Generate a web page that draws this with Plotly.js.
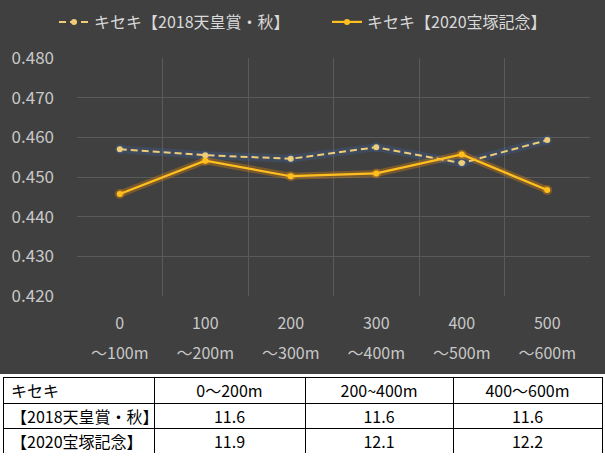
<!DOCTYPE html>
<html>
<head>
<meta charset="utf-8">
<script src="https://cdn.plot.ly/plotly-3.0.1.min.js"></script>
<style>html,body{margin:0;padding:0;background:#404040;}#chart{width:605px;height:456px;}</style>
</head>
<body>
<div id="chart"></div>
<script>
// ---- data ----
const catStart = ['0', '100', '200', '300', '400', '500'];
const catEnd = ['～100m', '～200m', '～300m', '～400m', '～500m', '～600m'];
const seriesNames = ['キセキ【2018天皇賞・秋】', 'キセキ【2020宝塚記念】'];
const tenno2018 = [0.4570, 0.4555, 0.4546, 0.4575, 0.4535, 0.4593];
const takarazuka2020 = [0.4457, 0.4541, 0.4502, 0.4509, 0.4557, 0.4467];
const yTicks = [0.42, 0.43, 0.44, 0.45, 0.46, 0.47, 0.48];

const tableHeader = ['キセキ', '0～200m', '200~400m', '400～600m'];
const tableRowLabels = ['【2018天皇賞・秋】', '【2020宝塚記念】'];
const table2018 = ['11.6', '11.6', '11.6'];
const table2020 = ['11.9', '12.1', '12.2'];

// ---- build ----
const xi = catStart.map((c, i) => i);
const FONT = '"Noto Sans CJK JP", "Noto Sans", sans-serif';
const W = 605, H = 456;
const c2018 = '#efcd78', c2020 = '#ffbf1f';

const traces = [
  // glow layers (on base x axis, drawn underneath)
  { x: xi, y: tenno2018, type: 'scatter', mode: 'lines+markers', showlegend: false, hoverinfo: 'skip',
    xaxis: 'x', yaxis: 'y',
    line: { color: 'rgba(60,100,170,0.28)', width: 8 }, marker: { size: 10, color: 'rgba(60,100,170,0.28)' } },
  { x: xi, y: takarazuka2020, type: 'scatter', mode: 'lines+markers', showlegend: false, hoverinfo: 'skip',
    xaxis: 'x', yaxis: 'y',
    line: { color: 'rgba(255,150,0,0.30)', width: 7 }, marker: { size: 10, color: 'rgba(255,150,0,0.30)' } },
  // main lines (on overlay axis x2, drawn above)
  { x: xi, y: tenno2018, name: seriesNames[0], type: 'scatter', mode: 'lines+markers',
    xaxis: 'x2', yaxis: 'y',
    line: { color: c2018, width: 2, dash: '7px,4px' }, marker: { size: 6, color: c2018 } },
  { x: xi, y: takarazuka2020, name: seriesNames[1], type: 'scatter', mode: 'lines+markers',
    xaxis: 'x2', yaxis: 'y',
    line: { color: c2020, width: 2.2 }, marker: { size: 6, color: c2020 } },
  { type: 'table',
    domain: { x: [3 / W, 602 / W], y: [3 / H, (H - 377) / H] },
    columnwidth: [151, 151, 148, 149],
    header: {
      values: tableHeader.map(v => [v]),
      align: ['left', 'center', 'center', 'center'],
      height: 26,
      fill: { color: '#ffffff' },
      line: { color: '#000000', width: 1 },
      font: { family: FONT, size: 16, color: '#000000' }
    },
    cells: {
      values: [tableRowLabels,
               [table2018[0], table2020[0]],
               [table2018[1], table2020[1]],
               [table2018[2], table2020[2]]],
      align: ['left', 'center', 'center', 'center'],
      height: 25,
      fill: { color: '#ffffff' },
      line: { color: '#000000', width: 1 },
      font: { family: FONT, size: 16, color: '#000000' }
    }
  }
];

const layout = {
  width: W, height: H,
  margin: { l: 0, r: 0, t: 0, b: 0 },
  paper_bgcolor: '#404040',
  plot_bgcolor: '#404040',
  font: { family: FONT, color: '#d0d0d0' },
  showlegend: true,
  legend: {
    orientation: 'h', x: 54 / W, xanchor: 'left', y: 1 - 5 / H, yanchor: 'top',
    font: { family: FONT, size: 16, color: '#d9d9d9' },
    bgcolor: 'rgba(0,0,0,0)', itemwidth: 30, traceorder: 'normal',
    entrywidth: 228, entrywidthmode: 'pixels'
  },
  xaxis: {
    domain: [77 / W, 590 / W],
    range: [-0.5, 5.5],
    tickmode: 'array', tickvals: xi, ticktext: catStart,
    showgrid: false, zeroline: false, showline: false, ticks: '',
    ticklabelstandoff: 16,
    tickfont: { family: FONT, size: 16, color: '#c8c8c8' },
    minor: { tickmode: 'linear', tick0: -0.5, dtick: 1, showgrid: true, gridcolor: '#5a5a5a', gridwidth: 1, ticks: '' },
    fixedrange: true
  },
  xaxis2: {
    overlaying: 'x', anchor: 'y', side: 'bottom',
    range: [-0.5, 5.5],
    tickmode: 'array', tickvals: xi, ticktext: catEnd,
    showgrid: false, zeroline: false, showline: false, ticks: '',
    ticklabelstandoff: 46,
    tickfont: { family: FONT, size: 16, color: '#c8c8c8' },
    fixedrange: true
  },
  yaxis: {
    domain: [(H - 296) / H, (H - 58) / H],
    range: [0.42, 0.48],
    tickmode: 'array', tickvals: yTicks, ticktext: yTicks.map(v => v.toFixed(3)),
    showgrid: true, gridcolor: '#5a5a5a', gridwidth: 1,
    zeroline: false, showline: false, ticks: '',
    ticklabelstandoff: 22,
    tickfont: { family: FONT, size: 17, color: '#c8c8c8' },
    fixedrange: true
  },
  shapes: [
    { type: 'rect', xref: 'paper', yref: 'paper', x0: 0, x1: 1, y0: 0, y1: (H - 374) / H,
      fillcolor: '#ffffff', line: { width: 0 }, layer: 'below' }
  ]
};

Plotly.newPlot('chart', traces, layout, { displayModeBar: false, staticPlot: true });
</script>
</body>
</html>
